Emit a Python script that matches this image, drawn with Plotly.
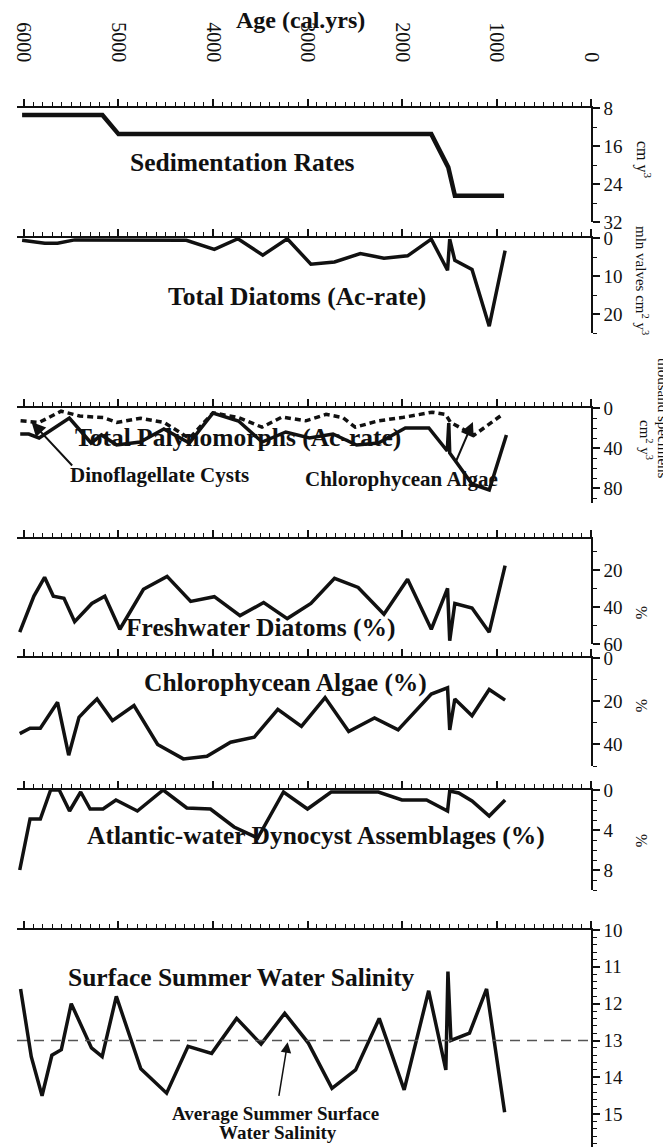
import plotly.graph_objects as go

# ---------------- data ----------------
sed_age = [6020, 5170, 5000, 1690, 1510, 1440, 920]
sed_val = [9.5, 9.5, 13.5, 13.5, 20.5, 26.5, 26.5]

dia_age = [6020, 5780, 5645, 5464, 4282, 3986, 3736, 3473, 3214, 2964, 2714, 2441,
           2191, 1941, 1690, 1518, 1495, 1441, 1259, 1077, 909]
dia_val = [0.6, 1.4, 1.4, 0.5, 0.6, 3.0, 0.2, 4.5, 0.2, 6.9, 6.3, 4.1,
           5.3, 4.7, 0.3, 8.5, 0.3, 5.9, 8.3, 23.2, 3.3]

dino_age = [6040, 5950, 5840, 5520, 5290, 5180, 5020, 4770, 4520, 4250, 4000, 3730,
            3480, 3230, 2980, 2730, 2480, 2250, 1965, 1716, 1521, 1505, 1495, 1259,
            1077, 895]
dino_val = [26, 26, 30, 10, 35, 27, 37, 34, 21, 35, 5, 13,
            34, 24, 30, 26, 37, 35, 20, 20, 43, 15, 45, 76,
            82, 27]

chl_age = [6036, 5839, 5607, 5411, 5161, 5018, 4768, 4518, 4250, 4000, 3732, 3482,
           3268, 3018, 2804, 2625, 2496, 2248, 2000, 1681, 1539, 1486, 1238, 936]
chl_val = [12.8, 14.4, 3.2, 8, 9.6, 14.4, 10.2, 14.4, 30.4, 4.8, 9.6, 19.2,
           9, 12.8, 6.4, 9.6, 19.2, 12.8, 9.6, 4.2, 6.4, 14.4, 27.2, 6.4]

fw_age = [6045, 5895, 5782, 5690, 5577, 5464, 5282, 5145, 4986, 4736, 4486, 4236,
          3986, 3714, 3464, 3214, 2964, 2714, 2464, 2191, 1941, 1690, 1518, 1495,
          1441, 1259, 1077, 909]
fw_val = [53.6, 34, 23.8, 34, 35.2, 47.9, 38, 34, 52, 30.3, 23.3, 36.9,
          34.3, 44.6, 37.5, 46.2, 38, 24.4, 29.3, 43.8, 24.9, 52, 29.8, 58.2,
          38, 40.5, 53.6, 17.5]

cp_age = [6045, 5936, 5827, 5645, 5527, 5418, 5309, 5227, 5064, 4836, 4586, 4314,
          4064, 3814, 3564, 3314, 3064, 2814, 2564, 2291, 2041, 1690, 1518, 1495,
          1441, 1259, 1077, 909]
cp_val = [35, 32.5, 32.5, 20.5, 45, 27.5, 22.5, 19, 29, 22, 40, 46.7,
          45.5, 39, 36.7, 23.8, 31.7, 18.3, 34, 27.8, 33.3, 16.7, 13.8, 33.3,
          19, 26.7, 14.6, 19.5]

atl_age = [6045, 5936, 5827, 5718, 5627, 5518, 5400, 5300, 5164, 5027, 4800, 4527,
           4277, 4027, 3777, 3527, 3254, 3000, 2750, 2250, 2000, 1740, 1518, 1495,
           1400, 1259, 1077, 909]
atl_val = [8, 2.9, 2.9, 0, 0, 2.1, 0.2, 1.9, 1.9, 1, 2.1, 0,
           1.8, 1.9, 3.7, 4.8, 0.2, 1.9, 0.2, 0.2, 1, 1, 2.1, 0.1,
           0.3, 1.1, 2.6, 1]

sal_age = [6036, 5923, 5809, 5705, 5605, 5500, 5286, 5173, 5023, 4764, 4491, 4264,
           4014, 3750, 3491, 3241, 2991, 2741, 2491, 2241, 1977, 1718, 1536, 1514,
           1482, 1286, 1105, 914]
sal_val = [11.6, 13.44, 14.5, 13.4, 13.25, 12.0, 13.2, 13.44, 11.8, 13.77, 14.43, 13.16,
           13.35, 12.4, 13.1, 12.26, 13.07, 14.3, 13.8, 12.4, 14.34, 11.65, 13.8, 11.13,
           13.0, 12.8, 11.6, 14.95]
sal_mean = 13.0

age_ticks = [6000, 5000, 4000, 3000, 2000, 1000, 0]

panel_titles = ["Sedimentation Rates", "Total Diatoms (Ac-rate)", "Total Palynomorphs (Ac-rate)",
                "Freshwater Diatoms (%)", "Chlorophycean Algae (%)",
                "Atlantic-water Dynocyst Assemblages (%)", "Surface Summer Water Salinity"]
unit_labels = ["cm y<sup>3</sup>", "mln valves cm<sup>2</sup> y<sup>3</sup>",
               "thousand specimens", "cm<sup>2</sup> y<sup>3</sup>", "%", "%", "%"]

# ---------------- layout geometry ----------------
W, H = 671, 1147
R_MARGIN = 88
PW = W - R_MARGIN  # plot area width in px
SERIF = "Liberation Serif"
INK = "#111111"

# (top px, bottom px, top value, bottom value, tick labels, minor step)
panels = [
    (100, 214, 8, 32, [8, 16, 24, 32], 4),
    (230, 325, 0, 25, [0, 10, 20], 5),
    (400, 495, 0, 95, [0, 40, 80], 10),
    (531, 636, 3, 60, [20, 40, 60], 10),
    (650, 758, 0, 50, [0, 20, 40], 10),
    (782, 882, 0, 10, [0, 4, 8], 1),
    (922, 1143, 10, 16, [10, 11, 12, 13, 14, 15, 16], 0.2),
]

def py(p):
    return 1 - p / H

def px(p):
    return p / PW

fig = go.Figure()

series = [
    [(sed_age, sed_val, None)],
    [(dia_age, dia_val, None)],
    [(dino_age, dino_val, None), (chl_age, chl_val, "6px,4px")],
    [(fw_age, fw_val, None)],
    [(cp_age, cp_val, None)],
    [(atl_age, atl_val, None)],
    [(sal_age, sal_val, None)],
]
widths = [4.5, 3.5, 3.5, 3.5, 3.5, 3.5, 3.5]

for i, sers in enumerate(series):
    n = i + 1
    for ages, vals, dash in sers:
        fig.add_trace(go.Scatter(
            x=ages, y=vals, mode="lines",
            line=dict(color=INK, width=widths[i], dash=dash if dash else "solid"),
            xaxis=f"x{n}", yaxis=f"y{n}", showlegend=False, hoverinfo="skip"))

x_dom = [9 / PW, 1]
x_rng = [6074, 0]

for i, (top, bot, vtop, vbot, tvals, mstep) in enumerate(panels):
    n = i + 1
    xa = dict(domain=x_dom, range=x_rng, anchor=f"y{n}", side="top",
              showline=True, linecolor=INK, linewidth=1.5, mirror=False,
              showgrid=False, zeroline=False, automargin=False,
              ticks="outside", tickvals=age_ticks, ticklen=7, tickwidth=1.5, tickcolor=INK,
              minor=dict(dtick=100, tick0=0, ticks="outside", ticklen=4, tickwidth=1, tickcolor=INK),
              showticklabels=(n == 1), tickangle=90, ticklabelstandoff=30,
              tickfont=dict(family=SERIF, size=20, color=INK))
    ya = dict(domain=[py(bot), py(top)], range=[vbot, vtop], anchor=f"x{n}", side="right",
              showline=True, linecolor=INK, linewidth=1.5, showgrid=False, zeroline=False,
              automargin=False,
              ticks="outside", tickvals=tvals, ticklen=7, tickwidth=1.5, tickcolor=INK,
              minor=dict(dtick=mstep, tick0=0, ticks="outside", ticklen=4, tickwidth=1, tickcolor=INK),
              tickfont=dict(family=SERIF, size=19, color=INK))
    fig.update_layout(**{f"xaxis{n}" if n > 1 else "xaxis": xa,
                         f"yaxis{n}" if n > 1 else "yaxis": ya})

# Average salinity dashed line
fig.add_shape(type="line", xref="x7 domain", yref="y7", x0=0, x1=1, y0=sal_mean, y1=sal_mean,
              line=dict(color="#555", width=1.5, dash="10px,7px"))

def label(text, x, y, size, bold=True, angle=0):
    return dict(text=text, x=px(x), y=py(y), xref="paper", yref="paper", showarrow=False,
                xanchor="center", yanchor="middle", textangle=angle,
                font=dict(family=SERIF, size=size, color=INK, weight="bold" if bold else "normal"))

ann = [label("Age (cal.yrs)", 292, 12, 24)]
title_pos = [(234, 155), (289, 289), (230, 430), (253, 619), (277, 674), (308, 828), (233, 969)]
for t, (tx, ty) in zip(panel_titles, title_pos):
    ann.append(label(t, tx, ty, 25.5))
unit_pos = [(636, 152), (634, 272), (655, 410), (638, 432), (634, 604), (634, 697), (634, 832)]
unit_size = [16, 15, 15, 15, 16, 16, 16]
for u, (ux, uy), us in zip(unit_labels, unit_pos, unit_size):
    ann.append(label(u, ux, uy, us, bold=False, angle=90))
ann.append(label("Dinoflagellate Cysts", 151, 467, 21))
ann.append(label("Chlorophycean Algae", 393, 471, 21))
ann.append(label("Average Summer Surface", 267, 1105, 19))
ann.append(label("Water Salinity", 270, 1124, 19))

ann.append(dict(text="", x=5920, y=14, xref="x3", yref="y3", showarrow=True, arrowhead=2,
                arrowsize=1.4, arrowwidth=2, arrowcolor=INK, ax=42, ay=45))
ann.append(dict(text="", x=1250, y=14, xref="x3", yref="y3", showarrow=True, arrowhead=2,
                arrowsize=1.4, arrowwidth=2, arrowcolor=INK, ax=-18, ay=42))
ann.append(dict(text="", x=3210, y=13.05, xref="x7", yref="y7", showarrow=True, arrowhead=2,
                arrowsize=1.4, arrowwidth=1.5, arrowcolor=INK, ax=-9, ay=55))

fig.update_layout(width=W, height=H,
                  margin=dict(l=0, r=R_MARGIN, t=0, b=0, pad=0, autoexpand=False),
                  paper_bgcolor="white", plot_bgcolor="white", annotations=ann)

fig.write_html("out.html")
